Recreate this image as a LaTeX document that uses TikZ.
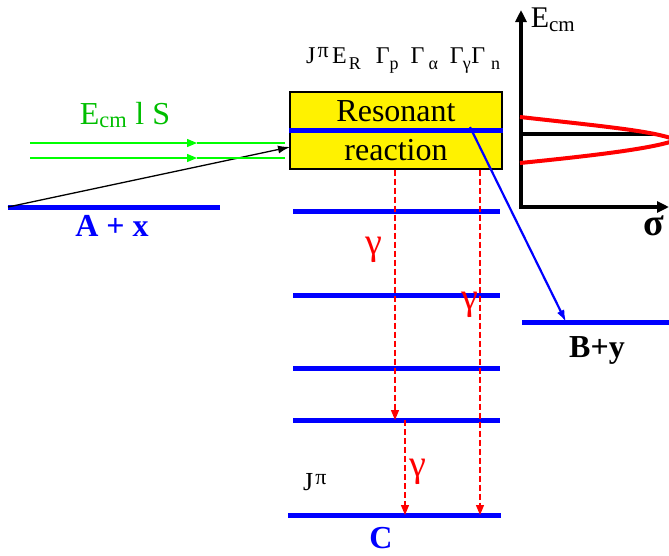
\documentclass[tikz,border=0pt]{standalone}
\usepackage{fontspec}
\setmainfont{Liberation Serif}
\usetikzlibrary{arrows.meta, positioning, calc}
\definecolor{beamtxt}{RGB}{0,190,0}
\newcommand{\supsym}[1]{\raisebox{6pt}{\fontsize{22}{22}\selectfont #1}}
\newcommand{\subsym}[1]{\raisebox{-6pt}{\fontsize{18}{18}\selectfont #1}}

\begin{document}
\begin{tikzpicture}[x=1pt, y=-1pt,
    level/.style={draw=blue, line width=5pt},
    box/.style={draw, fill=yellow, line width=1.2pt, minimum width=212pt, minimum height=77pt, align=center, font=\fontsize{32}{39}\selectfont},
    gammaarrow/.style={-{Triangle[length=10pt,width=8pt]}, red, dash pattern=on 6pt off 3pt, line width=1.3pt},
    gammalbl/.style={red, font=\fontsize{38}{38}\selectfont},
    beam/.style={green, line width=1.3pt},
    axis/.style={-{Triangle[length=12pt,width=11pt]}, line width=4.5pt},
    lbl/.style={font=\fontsize{32}{32}\selectfont\bfseries}]
    \useasboundingbox (0,0) rectangle (669,555);

    % compound nucleus box
    \node[box] (res) at (396,130.5) {Resonant\\reaction};
    \draw[level] (res.west) -- (res.east);
    \node[font=\fontsize{24}{24}\selectfont, inner sep=0pt, anchor=base west] (par) at (306,63)
        {J\hspace{2pt}\supsym{π}\hspace{3.5pt}E\hspace{2pt}\subsym{R}\hspace{15pt}Γ\subsym{p}\hspace{12pt}Γ\hspace{4pt}\subsym{α}\hspace{12pt}Γ\hspace{-1pt}\subsym{γ}\hspace{0.5pt}Γ\hspace{6pt}\subsym{n}};

    % entrance channel
    \coordinate (ax-l) at (8,207);
    \coordinate (ax-r) at (220,207);
    \coordinate (entry) at (290,147);
    \draw[level] (ax-l) -- (ax-r);
    \node[lbl, blue] (ax) at (112,226) {A + x};
    \draw[-{Latex[length=12pt,width=8pt]}, line width=1.3pt] (ax-l) -- (entry);

    \coordinate (b1-l) at (30,143);  \coordinate (b1-m) at (197,143);  \coordinate (b1-r) at (285,143);
    \coordinate (b2-l) at (30,158);  \coordinate (b2-m) at (197,158);  \coordinate (b2-r) at (285,158);
    \draw[beam, -{Triangle[length=10pt,width=8pt]}] (b1-l) -- (b1-m);
    \draw[beam] (b1-m) -- (b1-r);
    \draw[beam, -{Triangle[length=10pt,width=8pt]}] (b2-l) -- (b2-m);
    \draw[beam] (b2-m) -- (b2-r);
    \node[beamtxt, font=\fontsize{32}{32}\selectfont] (qn) at (125,115) {E\textsubscript{cm} l S};

    % levels of C
    \foreach \name/\y in {l1/211, l2/295, l3/368, l4/420} {
        \coordinate (\name-l) at (293,\y);
        \coordinate (\name-r) at (500,\y);
        \draw[level] (\name-l) -- (\name-r);
    }
    \coordinate (gs-l) at (288,515);
    \coordinate (gs-r) at (501,515);
    \draw[level] (gs-l) -- (gs-r);
    \node[lbl, blue] (c) at (381,538) {C};
    \node[font=\fontsize{26}{26}\selectfont, inner sep=0pt, anchor=base west] (jp) at (303,490) {J\hspace{2pt}\supsym{π}};

    % gamma cascade
    \draw[gammaarrow] (res.south -| 395,0) -- (l4-l -| 395,0);
    \draw[gammaarrow] (l4-l -| 405,0) -- (gs-l -| 405,0);
    \draw[gammaarrow] (res.south -| 480,0) -- (gs-l -| 480,0);
    \node[gammalbl] (g1) at (374,250) {γ};
    \node[gammalbl] (g2) at (470,305) {γ};
    \node[gammalbl] (g3) at (418,472) {γ};

    % exit channel
    \coordinate (out) at (470,127);
    \coordinate (by-l) at (522,322);
    \coordinate (by-r) at (669,322);
    \coordinate (by-in) at (566,322);
    \draw[level] (by-l) -- (by-r);
    \draw[blue, line width=2.2pt, -{Latex[length=12pt,width=8pt]}] (out) -- (by-in);
    \node[lbl] (by) at (597,350) {B+y};

    % cross section vs energy
    \coordinate (o) at (521,207);
    \coordinate (ytip) at (521,10);
    \coordinate (xtip) at (669,207);
    \draw[axis] ($(o)+(0,2)$) -- (ytip);
    \draw[axis] ($(o)+(-2,0)$) -- (xtip);
    \node[font=\fontsize{30}{30}\selectfont] (ecm) at (553,20) {E\textsubscript{cm}};
    \node[font=\fontsize{38}{38}\selectfont\bfseries] (sig) at (654,226) {σ};
    \draw[line width=4pt] (521,134) -- (653,134);
    \draw[red, line width=4pt] (520,117) .. controls (600,126) and (655,131) .. (676,140)
        .. controls (655,148) and (600,155) .. (520,163);
\end{tikzpicture}
\end{document}
